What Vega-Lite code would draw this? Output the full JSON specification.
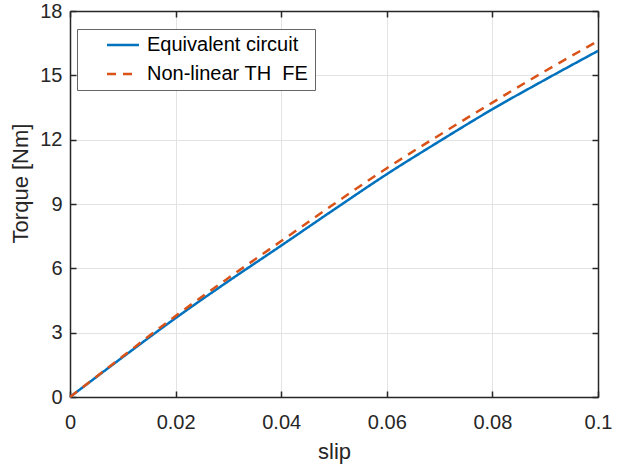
{
  "$schema": "https://vega.github.io/schema/vega-lite/v6.json",
  "width": 528,
  "height": 386,
  "autosize": {"type": "none"},
  "padding": {"left": 70, "top": 11, "right": 27, "bottom": 67},
  "background": "white",
  "config": {
    "font": "Liberation Sans",
    "view": {"stroke": null},
    "axis": {
      "labelFont": "Liberation Sans",
      "titleFont": "Liberation Sans",
      "labelFontSize": 20,
      "titleFontSize": 22,
      "labelColor": "#262626",
      "titleColor": "#262626",
      "titleFontWeight": "normal",
      "domainColor": "#262626",
      "domainWidth": 1.5,
      "tickColor": "#262626",
      "tickWidth": 1.5,
      "gridColor": "#e3e3e3",
      "gridWidth": 1,
      "labelFlush": false,
      "labelOverlap": false
    },
    "legend": {"labelFont": "Liberation Sans"}
  },
  "data": {
    "values": [
      {"slip": 0.0, "torque": 0.0, "series": "Equivalent circuit"},
      {"slip": 0.01, "torque": 1.86, "series": "Equivalent circuit"},
      {"slip": 0.02, "torque": 3.68, "series": "Equivalent circuit"},
      {"slip": 0.03, "torque": 5.4, "series": "Equivalent circuit"},
      {"slip": 0.04, "torque": 7.06, "series": "Equivalent circuit"},
      {"slip": 0.05, "torque": 8.74, "series": "Equivalent circuit"},
      {"slip": 0.06, "torque": 10.39, "series": "Equivalent circuit"},
      {"slip": 0.07, "torque": 11.93, "series": "Equivalent circuit"},
      {"slip": 0.08, "torque": 13.42, "series": "Equivalent circuit"},
      {"slip": 0.09, "torque": 14.8, "series": "Equivalent circuit"},
      {"slip": 0.1, "torque": 16.14, "series": "Equivalent circuit"},
      {"slip": 0.0, "torque": 0.0, "series": "Non-linear TH  FE"},
      {"slip": 0.01, "torque": 1.9, "series": "Non-linear TH  FE"},
      {"slip": 0.02, "torque": 3.78, "series": "Non-linear TH  FE"},
      {"slip": 0.03, "torque": 5.55, "series": "Non-linear TH  FE"},
      {"slip": 0.04, "torque": 7.27, "series": "Non-linear TH  FE"},
      {"slip": 0.05, "torque": 9.0, "series": "Non-linear TH  FE"},
      {"slip": 0.06, "torque": 10.67, "series": "Non-linear TH  FE"},
      {"slip": 0.07, "torque": 12.22, "series": "Non-linear TH  FE"},
      {"slip": 0.08, "torque": 13.73, "series": "Non-linear TH  FE"},
      {"slip": 0.09, "torque": 15.2, "series": "Non-linear TH  FE"},
      {"slip": 0.1, "torque": 16.6, "series": "Non-linear TH  FE"}
    ]
  },
  "resolve": {"axis": {"x": "independent", "y": "independent"}},
  "layer": [
    {
      "mark": {"type": "line", "strokeWidth": 2.5, "interpolate": "monotone"},
      "encoding": {
        "x": {
          "field": "slip", "type": "quantitative",
          "scale": {"domain": [0, 0.1], "nice": false},
          "axis": {"title": "slip", "values": [0, 0.02, 0.04, 0.06, 0.08, 0.1], "format": ".2~f", "tickSize": -6, "labelPadding": 21, "titlePadding": 9, "grid": true}
        },
        "y": {
          "field": "torque", "type": "quantitative",
          "scale": {"domain": [0, 18], "nice": false},
          "axis": {"title": "Torque [Nm]", "values": [0, 3, 6, 9, 12, 15, 18], "tickSize": -6, "labelPadding": 14, "titlePadding": 7, "titleY": 172, "grid": true}
        },
        "color": {
          "field": "series", "type": "nominal",
          "scale": {"domain": ["Equivalent circuit", "Non-linear TH  FE"], "range": ["#0072BD", "#D95319"]},
          "legend": {
            "title": null,
            "orient": "none",
            "legendX": 7,
            "legendY": 18,
            "symbolType": "M-2,0H2",
            "symbolSize": 256,
            "symbolStrokeWidth": 2.5,
            "symbolOffset": 30,
            "labelFontSize": 20,
            "labelLimit": 400,
            "labelColor": "#000000",
            "labelExpr": "replace(datum.label, '  ', ' \u00a0') + '\u2003\u2003'",
            "strokeColor": "#666666",
            "fillColor": "white",
            "padding": 6,
            "rowPadding": 9,
            "labelOffset": 14
          }
        },
        "strokeDash": {
          "field": "series", "type": "nominal",
          "scale": {"domain": ["Equivalent circuit", "Non-linear TH  FE"], "range": [[1, 0], [9, 7]]},
          "legend": null
        }
      }
    },
    {
      "mark": {"type": "line", "opacity": 0},
      "encoding": {
        "x": {"field": "slip", "type": "quantitative", "axis": {"orient": "top", "labels": false, "title": null, "values": [0, 0.02, 0.04, 0.06, 0.08, 0.1], "tickSize": -6, "grid": false}},
        "y": {"field": "torque", "type": "quantitative", "axis": {"orient": "right", "labels": false, "title": null, "values": [0, 3, 6, 9, 12, 15, 18], "tickSize": -6, "grid": false}}
      }
    }
  ]
}
